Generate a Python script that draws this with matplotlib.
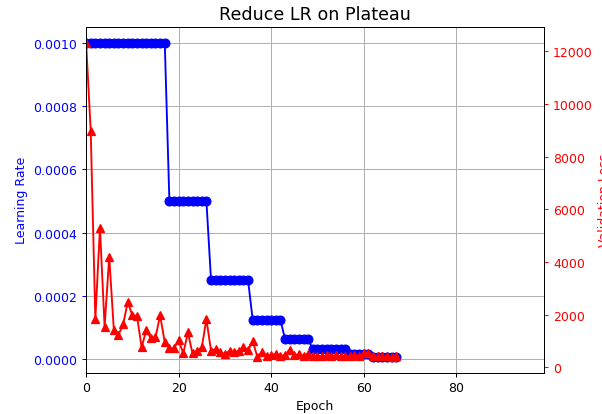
import matplotlib
matplotlib.use('Agg')
import matplotlib.pyplot as plt
import numpy as np

# ── data ──
epochs = np.arange(68)

learning_rate = ([0.001] * 18 + [0.0005] * 9 + [0.00025] * 9 + [0.000125] * 7 +
                 [0.0000625] * 6 + [0.00003125] * 8 + [0.000015625] * 5 +
                 [0.0000078125] * 6)

val_loss = [12330, 8980, 1830, 5310, 1540, 4200, 1420, 1230, 1640, 2470,
            1980, 1960, 760, 1420, 1100, 1140, 1980, 950, 720, 720,
            1040, 530, 1330, 530, 630, 760, 1830, 630, 700, 570,
            505, 630, 590, 630, 770, 660, 1000, 410, 580, 430,
            470, 520, 430, 480, 680, 470, 500, 450, 520, 430,
            450, 420, 460, 430, 470, 420, 450, 430, 470, 440,
            530, 560, 450, 430, 420, 440, 405, 420]

fig, ax1 = plt.subplots(figsize=(602 / 90, 415 / 90), dpi=90)
fig.subplots_adjust(left=0.143, right=0.904, bottom=0.100, top=0.933)

ax1.plot(epochs, learning_rate, 'bo-', markersize=7, linewidth=1.5)
ax1.set_xlabel('Epoch')
ax1.set_ylabel('Learning Rate', color='b')
ax1.tick_params(axis='y', colors='b')
ax1.set_xlim(0, 99)
ax1.grid(True)

ax2 = ax1.twinx()
ax2.plot(epochs, val_loss, 'r^-', markersize=7, linewidth=1.5)
ax2.set_ylabel('Validation Loss', color='r')
ax2.tick_params(axis='y', colors='r')

ax1.set_title('Reduce LR on Plateau', fontsize=14)

plt.savefig('out.png', dpi=90)
plt.close()
